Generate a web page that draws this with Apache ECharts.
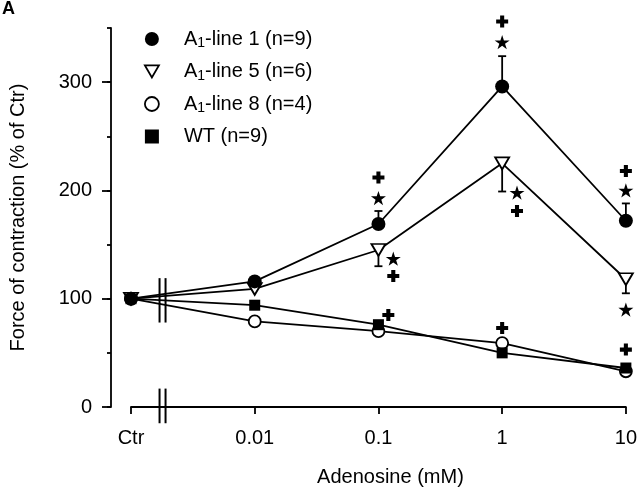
<!DOCTYPE html>
<html>
<head>
<meta charset="utf-8">
<script src="https://cdn.jsdelivr.net/npm/echarts@6/dist/echarts.min.js"></script>
<style>
html,body{margin:0;padding:0;background:#fff;}
#c{width:640px;height:492px;}
</style>
</head>
<body>
<div id="c"></div>
<script>
// x positions on a log10 scale (Ctr plotted one decade left of 0.01)
var xPos = [-3, -2, -1, 0, 1];
var xLabels = ['Ctr', '0.01', '0.1', '1', '10'];
var yTickLabels = [0, 100, 200, 300];

var seriesNames = ['A1-line 1 (n=9)', 'A1-line 5 (n=6)', 'A1-line 8 (n=4)', 'WT (n=9)'];
var line1 = [100, 116, 169, 296, 172];
var line1Sem = [0, 0, 12, 28, 16];
var line5 = [100, 109, 145, 225, 118];
var line5Sem = [0, 0, 15, 26, 13];
var line8 = [100, 79, 70, 59, 33];
var wt = [100, 94, 76, 50, 36];

// significance markers [x (log10 mM), y]
var starPts = [[-1, 193], [0, 337], [1, 200], [-0.88, 137], [0.12, 198], [1, 90]];
var plusPts = [[-1, 212], [0, 356], [1, 218], [-0.88, 121], [0.12, 181], [-0.92, 85], [0, 73], [1, 53]];

function pairs(xs, ys) { return xs.map(function (x, i) { return [x, ys[i]]; }); }
function triples(xs, ys, es) { return xs.map(function (x, i) { return [x, ys[i], es[i]]; }); }

var FONT = '"Liberation Sans", Arial, Helvetica, sans-serif';
var FS = 20;
var STAR = 'path://M50,0L61.2,34.5L97.6,34.5L68.2,55.9L79.4,90.5L50,69.1L20.6,90.5L31.8,55.9L2.4,34.5L38.8,34.5Z';
var PLUS = 'path://M3.3,0H6.7V3.3H10V6.7H6.7V10H3.3V6.7H0V3.3H3.3Z';
var TRI_DOWN = 'path://M0,0L10,0L5,8.66Z';

function errRender(dir) {
  return function (params, api) {
    var x = api.value(0), y = api.value(1), e = api.value(2);
    if (!e) return null;
    var p0 = api.coord([x, y]);
    var p1 = api.coord([x, y + dir * e]);
    var st = { stroke: '#000', lineWidth: 1.8 };
    return {
      type: 'group',
      children: [
        { type: 'line', shape: { x1: p0[0], y1: p0[1], x2: p1[0], y2: p1[1] }, style: st },
        { type: 'line', shape: { x1: p1[0] - 4, y1: p1[1], x2: p1[0] + 4, y2: p1[1] }, style: st }
      ]
    };
  };
}

function legendName(n) {
  if (n.indexOf('A1') === 0) return '{a|A}{s|1}{a|' + n.slice(2) + '}';
  return '{a|' + n + '}';
}

var chart = echarts.init(document.getElementById('c'), null, { renderer: 'canvas' });
var option = {
  animation: false,
  backgroundColor: '#fff',
  textStyle: { fontFamily: FONT },
  graphic: [
    { type: 'text', left: 2, top: 0, style: { text: 'A', font: 'bold 18px ' + FONT, fill: '#000' } }
  ],
  legend: {
    orient: 'vertical',
    left: 139,
    top: 24,
    itemWidth: 14,
    itemHeight: 14,
    itemGap: 11,
    selectedMode: false,
    symbolKeepAspect: true,
    formatter: legendName,
    textStyle: {
      padding: [0, 0, 0, 20],
      rich: {
        a: { fontFamily: FONT, fontSize: FS, color: '#000' },
        s: { fontFamily: FONT, fontSize: 14, color: '#000', verticalAlign: 'bottom', padding: [9, 0, 0, 0] }
      }
    },
    data: [
      { name: seriesNames[0], icon: 'circle', itemStyle: { color: '#000', borderColor: '#000', borderWidth: 0 } },
      { name: seriesNames[1], icon: TRI_DOWN, itemStyle: { color: '#fff', borderColor: '#000', borderWidth: 1.8 } },
      { name: seriesNames[2], icon: 'circle', itemStyle: { color: '#fff', borderColor: '#000', borderWidth: 1.8 } },
      { name: seriesNames[3], icon: 'rect', itemStyle: { color: '#000', borderColor: '#000', borderWidth: 0 } }
    ]
  },
  grid: { left: 128, right: 11, top: 28, bottom: 79, containLabel: false },
  xAxis: {
    type: 'value',
    min: -3, max: 1, interval: 1,
    name: 'Adenosine (mM)',
    nameLocation: 'middle',
    nameGap: 60,
    nameTextStyle: { fontFamily: FONT, fontSize: FS, color: '#000', padding: [0, 0, 0, 24] },
    axisLine: { show: true, onZero: false, lineStyle: { color: '#000', width: 1.8 } },
    axisTick: { show: true, length: 7, lineStyle: { color: '#000', width: 1.8 } },
    axisLabel: {
      margin: 21, color: '#000', fontFamily: FONT, fontSize: FS,
      formatter: function (v) { var i = xPos.indexOf(Math.round(v)); return i >= 0 ? xLabels[i] : ''; }
    },
    splitLine: { show: false }
  },
  yAxis: [
    {
      type: 'value',
      min: 0, max: 350, interval: 100,
      offset: 20,
      name: 'Force of contraction (% of Ctr)',
      nameLocation: 'middle',
      nameGap: 83,
      nameTextStyle: { fontFamily: FONT, fontSize: FS, color: '#000' },
      axisLine: { show: true, onZero: false, lineStyle: { color: '#000', width: 1.8 } },
      axisTick: { show: true, length: 9, lineStyle: { color: '#000', width: 1.8 } },
      axisLabel: {
        margin: 19, color: '#000', fontFamily: FONT, fontSize: FS, showMaxLabel: false,
        formatter: function (v) { return yTickLabels.indexOf(v) >= 0 ? String(v) : ''; }
      },
      splitLine: { show: false }
    },
    {
      type: 'value',
      min: 0, max: 350, interval: 50,
      offset: 20,
      position: 'left',
      axisLine: { show: false, onZero: false },
      axisTick: { show: true, length: 4, lineStyle: { color: '#000', width: 1.8 } },
      axisLabel: { show: false },
      splitLine: { show: false }
    }
  ],
  series: [
    {
      type: 'custom', name: 'breaks', silent: true, clip: false, z: 5,
      data: [[-2.745, 78, 119], [-2.745, -15, 17]],
      renderItem: function (params, api) {
        var a = api.coord([api.value(0), api.value(1)]);
        var b = api.coord([api.value(0), api.value(2)]);
        var st = { stroke: '#000', lineWidth: 2 };
        return {
          type: 'group',
          children: [
            { type: 'line', shape: { x1: a[0] - 3, y1: a[1], x2: b[0] - 3, y2: b[1] }, style: st },
            { type: 'line', shape: { x1: a[0] + 3, y1: a[1], x2: b[0] + 3, y2: b[1] }, style: st }
          ]
        };
      }
    },
    {
      type: 'custom', name: 'err1', silent: true, clip: false, z: 1,
      data: triples(xPos, line1, line1Sem), renderItem: errRender(1)
    },
    {
      type: 'custom', name: 'err5', silent: true, clip: false, z: 1,
      data: triples(xPos, line5, line5Sem), renderItem: errRender(-1)
    },
    {
      name: seriesNames[2], type: 'line', data: pairs(xPos, line8), z: 2,
      symbol: 'circle', symbolSize: 12,
      itemStyle: { color: '#fff', borderColor: '#000', borderWidth: 1.8 },
      lineStyle: { color: '#000', width: 1.8 }
    },
    {
      name: seriesNames[3], type: 'line', data: pairs(xPos, wt), z: 2,
      symbol: 'rect', symbolSize: 11,
      itemStyle: { color: '#000', borderColor: '#000', borderWidth: 0 },
      lineStyle: { color: '#000', width: 1.8 }
    },
    {
      name: seriesNames[1], type: 'line', data: pairs(xPos, line5), z: 2,
      symbol: TRI_DOWN, symbolSize: [14, 12], symbolKeepAspect: false,
      itemStyle: { color: '#fff', borderColor: '#000', borderWidth: 1.8 },
      lineStyle: { color: '#000', width: 1.8 }
    },
    {
      name: seriesNames[0], type: 'line', data: pairs(xPos, line1), z: 2,
      symbol: 'circle', symbolSize: 14,
      itemStyle: { color: '#000', borderColor: '#000', borderWidth: 0 },
      lineStyle: { color: '#000', width: 1.8 }
    },
    {
      type: 'scatter', name: 'stars', silent: true, clip: false, z: 3,
      data: starPts, symbol: STAR, symbolSize: 15, symbolKeepAspect: true,
      itemStyle: { color: '#000', opacity: 1 }
    },
    {
      type: 'scatter', name: 'plus', silent: true, clip: false, z: 3,
      data: plusPts, symbol: PLUS, symbolSize: 12, symbolKeepAspect: true,
      itemStyle: { color: '#000', opacity: 1 }
    }
  ]
};
chart.setOption(option);
</script>
</body>
</html>
